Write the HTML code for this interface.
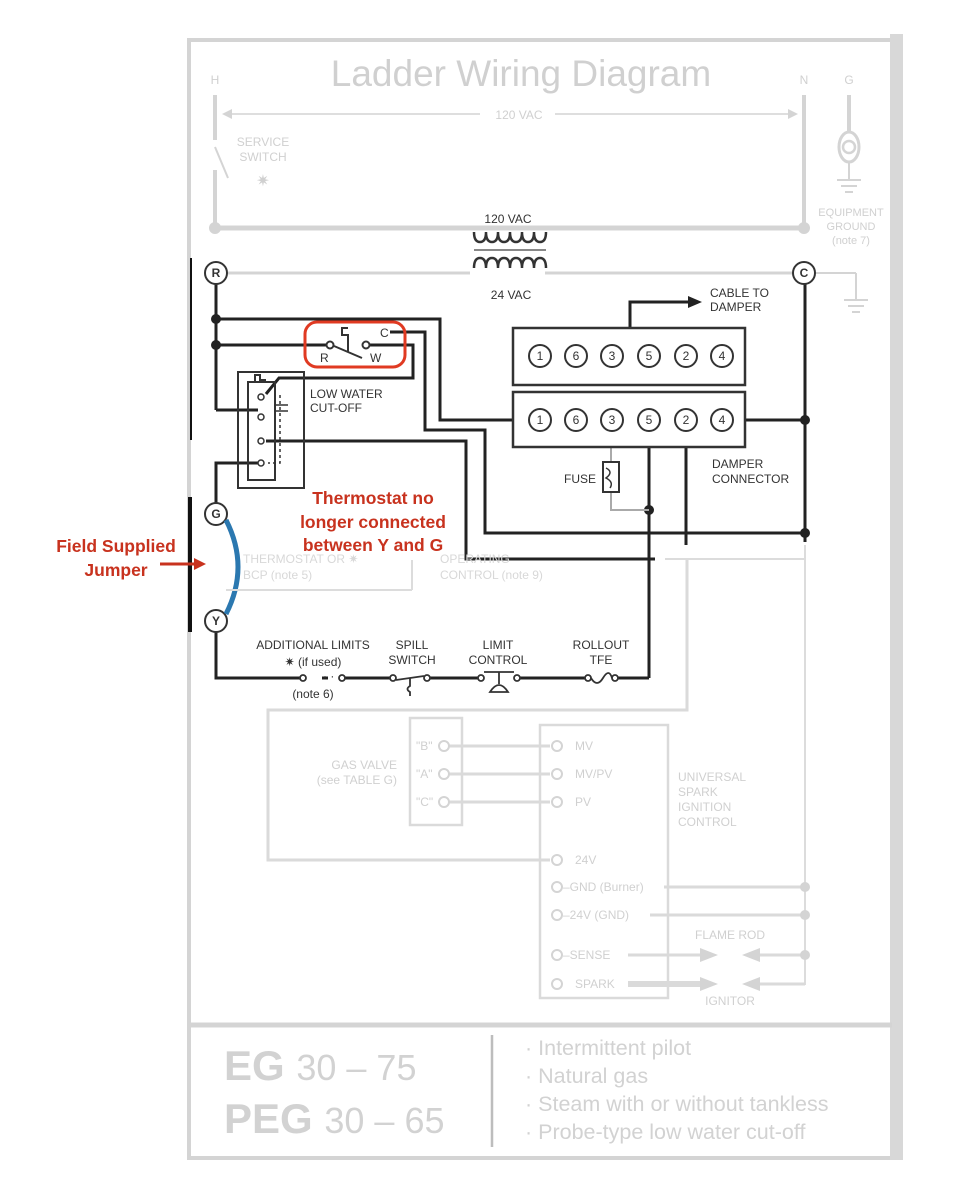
<!DOCTYPE html>
<html><head><meta charset="utf-8"><style>
html,body{margin:0;padding:0;background:#fff;}
svg{display:block;font-family:"Liberation Sans",sans-serif;}
</style></head><body>
<svg width="954" height="1196" viewBox="0 0 954 1196" xmlns="http://www.w3.org/2000/svg">
<rect width="954" height="1196" fill="#fff"/>
<rect x="189" y="40" width="703" height="1118" fill="none" stroke="#d4d4d4" stroke-width="4"/>
<rect x="890" y="34" width="13" height="1126" fill="#d8d8d8"/>
<line x1="189" y1="1025" x2="892" y2="1025" stroke="#d4d4d4" stroke-width="5"/>
<line x1="492" y1="1035" x2="492" y2="1147" stroke="#bdbdbd" stroke-width="2.5"/>
<text x="521" y="86" font-size="37" fill="#d0d0d0" text-anchor="middle">Ladder Wiring Diagram</text>

<g fill="#d0d0d0" font-size="12">
<text x="215" y="84" text-anchor="middle">H</text>
<text x="804" y="84" text-anchor="middle">N</text>
<text x="849" y="84" text-anchor="middle">G</text>
<text x="519" y="119" text-anchor="middle">120 VAC</text>
<text x="263" y="146" text-anchor="middle">SERVICE</text>
<text x="263" y="161" text-anchor="middle">SWITCH</text>
<text x="263" y="186" text-anchor="middle" font-size="16">✷</text>
<text x="851" y="216" text-anchor="middle" font-size="11">EQUIPMENT</text>
<text x="851" y="230" text-anchor="middle" font-size="11">GROUND</text>
<text x="851" y="244" text-anchor="middle" font-size="11">(note 7)</text>
</g>
<g stroke="#d4d4d4" fill="none">
<line x1="215" y1="95" x2="215" y2="140" stroke-width="4"/>
<line x1="215" y1="147" x2="228" y2="178" stroke-width="2"/>
<line x1="215" y1="170" x2="215" y2="228" stroke-width="4"/>
<line x1="804" y1="95" x2="804" y2="228" stroke-width="4"/>
<line x1="215" y1="228" x2="804" y2="228" stroke-width="5"/>
<line x1="230" y1="114" x2="480" y2="114" stroke-width="1.5"/>
<line x1="555" y1="114" x2="790" y2="114" stroke-width="1.5"/>
<line x1="849" y1="95" x2="849" y2="132" stroke-width="4"/>
<ellipse cx="849" cy="147" rx="10" ry="15" stroke-width="3"/>
<circle cx="849" cy="147" r="6" stroke-width="2.5"/>
<line x1="849" y1="162" x2="849" y2="180" stroke-width="2"/>
<line x1="837" y1="180" x2="861" y2="180" stroke-width="2"/>
<line x1="841" y1="186" x2="857" y2="186" stroke-width="2"/>
<line x1="845" y1="192" x2="853" y2="192" stroke-width="2"/>
<line x1="228" y1="273" x2="470" y2="273" stroke-width="3"/>
<line x1="545" y1="273" x2="793" y2="273" stroke-width="3"/>
<line x1="816" y1="273" x2="856" y2="273" stroke-width="2"/>
<line x1="856" y1="273" x2="856" y2="300" stroke-width="2"/>
<line x1="844" y1="300" x2="868" y2="300" stroke-width="2"/>
<line x1="848" y1="306" x2="864" y2="306" stroke-width="2"/>
<line x1="852" y1="312" x2="860" y2="312" stroke-width="2"/>
</g>
<polygon points="222,114 232,109 232,119" fill="#d4d4d4"/>
<polygon points="798,114 788,109 788,119" fill="#d4d4d4"/>
<circle cx="215" cy="228" r="6" fill="#d4d4d4"/>
<circle cx="804" cy="228" r="6" fill="#d4d4d4"/>
<text x="508" y="223" font-size="12" text-anchor="middle" fill="#333">120 VAC</text>
<text x="511" y="299" font-size="12" text-anchor="middle" fill="#333">24 VAC</text>
<g fill="none" stroke="#333" stroke-width="2.5">
<path d="M474,232 q0,10 6,10 q6,0 6,-10 q0,10 6,10 q6,0 6,-10 q0,10 6,10 q6,0 6,-10 q0,10 6,10 q6,0 6,-10 q0,10 6,10 q6,0 6,-10 q0,10 6,10 q6,0 6,-10"/>
<path d="M474,268 q0,-10 6,-10 q6,0 6,10 q0,-10 6,-10 q6,0 6,10 q0,-10 6,-10 q6,0 6,10 q0,-10 6,-10 q6,0 6,10 q0,-10 6,-10 q6,0 6,10 q0,-10 6,-10 q6,0 6,10"/>
<line x1="474" y1="250" x2="546" y2="250" stroke="#888" stroke-width="2"/>
</g>

<line x1="191" y1="258" x2="191" y2="440" stroke="#111" stroke-width="2"/>
<line x1="190" y1="497" x2="190" y2="632" stroke="#111" stroke-width="4"/>

<g fill="none" stroke="#222" stroke-width="3">
<line x1="216" y1="284" x2="216" y2="410"/>
<polyline points="216,410 258,410"/>
<polyline points="216,319 440,319 440,420 529,420"/>
<polyline points="216,345 326,345"/>
<polyline points="370,345 413,345 413,378 279,378 266,394"/>
<polyline points="390,332 425,332 425,430 485,430 485,533 805,533"/>
<polyline points="266,441 466,441 466,559 655,559"/>
<polyline points="258,463 216,463 216,503"/>
<polyline points="733,420 805,420"/>
<line x1="805" y1="284" x2="805" y2="542"/>
<line x1="649" y1="430" x2="649" y2="678"/>
<line x1="686" y1="430" x2="686" y2="545"/>
<polyline points="216,632 216,678 300,678"/>
<line x1="322" y1="678" x2="328" y2="678"/>
<line x1="345" y1="678" x2="390" y2="678"/>
<line x1="430" y1="678" x2="478" y2="678"/>
<line x1="520" y1="678" x2="585" y2="678"/>
<line x1="618" y1="678" x2="649" y2="678"/>
<polyline points="630,328 630,302 690,302"/>
</g>
<polygon points="688,296 702,302 688,308" fill="#222"/>
<g fill="#222">
<circle cx="216" cy="319" r="5"/><circle cx="216" cy="345" r="5"/>
<circle cx="805" cy="420" r="5"/><circle cx="805" cy="533" r="5"/>
<circle cx="649" cy="510" r="5"/>
</g>
<polyline points="611,430 611,462" fill="none" stroke="#aaa" stroke-width="2"/>
<polyline points="611,492 611,510 649,510" fill="none" stroke="#aaa" stroke-width="2"/>
<rect x="603" y="462" width="16" height="30" fill="#fff" stroke="#333" stroke-width="2"/>
<path d="M606,468 q8,4 0,10 q8,4 4,10" fill="none" stroke="#333" stroke-width="1.5"/>
<text x="596" y="483" font-size="12" text-anchor="end" fill="#333">FUSE</text>

<g fill="none" stroke="#333" stroke-width="2">
<circle cx="330" cy="345" r="3.5"/><circle cx="366" cy="345" r="3.5"/>
<line x1="334" y1="346" x2="362" y2="358"/>
<polyline points="348,352 348,335 342,335 342,328 348,328"/>
</g>
<g font-size="12" fill="#333"><text x="320" y="362">R</text><text x="370" y="362">W</text><text x="380" y="337">C</text></g>
<rect x="305" y="322" width="100" height="45" rx="12" fill="none" stroke="#e03a22" stroke-width="3"/>

<rect x="238" y="372" width="66" height="116" fill="none" stroke="#333" stroke-width="2"/>
<rect x="248" y="382" width="27" height="98" fill="none" stroke="#333" stroke-width="2"/>
<polyline points="255,382 255,375 260,375 260,380 265,380 265,382" fill="none" stroke="#333" stroke-width="2"/>
<g fill="#fff" stroke="#333" stroke-width="1.5">
<circle cx="261" cy="397" r="3"/><circle cx="261" cy="417" r="3"/><circle cx="261" cy="441" r="3"/><circle cx="261" cy="463" r="3"/>
</g>
<polyline points="280,395 280,463 268,463" fill="none" stroke="#333" stroke-width="1.5" stroke-dasharray="3,3"/>
<line x1="274" y1="405" x2="288" y2="405" stroke="#333" stroke-width="1.5"/>
<line x1="274" y1="411" x2="288" y2="411" stroke="#333" stroke-width="1.5"/>
<text x="310" y="398" font-size="12" fill="#333">LOW WATER</text>
<text x="310" y="412" font-size="12" fill="#333">CUT-OFF</text>

<rect x="513" y="328" width="232" height="57" fill="#fff" stroke="#333" stroke-width="2.5"/>
<rect x="513" y="392" width="232" height="55" fill="#fff" stroke="#333" stroke-width="2.5"/>
<g font-size="12" fill="#333" text-anchor="middle">
<g fill="#fff" stroke="#333" stroke-width="2">
<circle cx="540" cy="356" r="11"/><circle cx="576" cy="356" r="11"/><circle cx="612" cy="356" r="11"/><circle cx="649" cy="356" r="11"/><circle cx="686" cy="356" r="11"/><circle cx="722" cy="356" r="11"/>
<circle cx="540" cy="420" r="11"/><circle cx="576" cy="420" r="11"/><circle cx="612" cy="420" r="11"/><circle cx="649" cy="420" r="11"/><circle cx="686" cy="420" r="11"/><circle cx="722" cy="420" r="11"/>
</g>
<text x="540" y="360">1</text><text x="576" y="360">6</text><text x="612" y="360">3</text><text x="649" y="360">5</text><text x="686" y="360">2</text><text x="722" y="360">4</text>
<text x="540" y="424">1</text><text x="576" y="424">6</text><text x="612" y="424">3</text><text x="649" y="424">5</text><text x="686" y="424">2</text><text x="722" y="424">4</text>
</g>
<text x="710" y="297" font-size="12" fill="#333">CABLE TO</text>
<text x="710" y="311" font-size="12" fill="#333">DAMPER</text>
<text x="712" y="468" font-size="12" fill="#333">DAMPER</text>
<text x="712" y="483" font-size="12" fill="#333">CONNECTOR</text>

<g fill="#fff" stroke="#333" stroke-width="2">
<circle cx="216" cy="273" r="11"/><circle cx="804" cy="273" r="11"/>
<circle cx="216" cy="514" r="11"/><circle cx="216" cy="621" r="11"/>
</g>
<g font-size="12" fill="#333" text-anchor="middle" font-weight="bold">
<text x="216" y="277">R</text><text x="804" y="277">C</text><text x="216" y="518">G</text><text x="216" y="625">Y</text>
</g>
<path d="M226,520 Q250,567 226,614" fill="none" stroke="#2b78b0" stroke-width="5"/>

<g fill="#d8d8d8" font-size="12">
<text x="243" y="563">THERMOSTAT OR ✷</text>
<text x="243" y="579">BCP (note 5)</text>
<text x="440" y="563">OPERATING</text>
<text x="440" y="579">CONTROL (note 9)</text>
</g>
<g stroke="#dcdcdc" fill="none" stroke-width="2">
<line x1="226" y1="590" x2="412" y2="590"/>
<line x1="412" y1="560" x2="412" y2="590"/>
<line x1="805" y1="545" x2="805" y2="985"/>
<line x1="665" y1="559" x2="805" y2="559"/>
</g>

<g fill="none" stroke="#333" stroke-width="1.8">
<circle cx="303" cy="678" r="3"/><circle cx="342" cy="678" r="3"/>
<circle cx="393" cy="678" r="3"/><circle cx="427" cy="678" r="3"/>
<circle cx="481" cy="678" r="3"/><circle cx="517" cy="678" r="3"/>
<circle cx="588" cy="678" r="3"/><circle cx="615" cy="678" r="3"/>
<line x1="396" y1="680" x2="424" y2="676"/>
<path d="M410,678 v8 q-5,3 0,6 v4"/>
<line x1="484" y1="672" x2="514" y2="672"/>
<line x1="499" y1="672" x2="499" y2="684"/>
<path d="M490,692 q9,-14 18,0 z"/>
<path d="M591,678 q6,10 12,0 q6,-10 9,0"/>
</g>
<text x="323" y="680" font-size="12" fill="#333">· ·</text>
<g font-size="12" fill="#333" text-anchor="middle">
<text x="313" y="649">ADDITIONAL LIMITS</text>
<text x="313" y="666">✷ (if used)</text>
<text x="313" y="698">(note 6)</text>
<text x="412" y="649">SPILL</text><text x="412" y="664">SWITCH</text>
<text x="498" y="649">LIMIT</text><text x="498" y="664">CONTROL</text>
<text x="601" y="649">ROLLOUT</text><text x="601" y="664">TFE</text>
</g>

<g stroke="#dadada" fill="none" stroke-width="3">
<polyline points="687,560 687,710 268,710 268,860 550,860"/>
<rect x="410" y="718" width="52" height="107" stroke-width="2.5"/>
<rect x="540" y="725" width="128" height="273" stroke-width="2.5"/>
<line x1="447" y1="746" x2="550" y2="746"/>
<line x1="447" y1="774" x2="550" y2="774"/>
<line x1="447" y1="802" x2="550" y2="802"/>
<line x1="664" y1="887" x2="805" y2="887"/>
<line x1="650" y1="915" x2="805" y2="915"/>
<line x1="628" y1="955" x2="700" y2="955"/>
<line x1="760" y1="955" x2="805" y2="955"/>
<polyline points="760,984 805,984"/>
<line x1="628" y1="984" x2="700" y2="984" stroke-width="6"/>
</g>
<g fill="#fff" stroke="#d4d4d4" stroke-width="2">
<circle cx="444" cy="746" r="5"/><circle cx="444" cy="774" r="5"/><circle cx="444" cy="802" r="5"/>
<circle cx="557" cy="746" r="5"/><circle cx="557" cy="774" r="5"/><circle cx="557" cy="802" r="5"/>
<circle cx="557" cy="860" r="5"/><circle cx="557" cy="887" r="5"/><circle cx="557" cy="915" r="5"/>
<circle cx="557" cy="955" r="5"/><circle cx="557" cy="984" r="5"/>
</g>
<g fill="#d4d4d4">
<circle cx="805" cy="887" r="5"/><circle cx="805" cy="915" r="5"/><circle cx="805" cy="955" r="5"/>
<polygon points="700,948 718,955 700,962"/><polygon points="700,977 718,984 700,991"/>
<polygon points="760,948 742,955 760,962"/><polygon points="760,977 742,984 760,991"/>
</g>
<g fill="#d0d0d0" font-size="12">
<text x="397" y="769" text-anchor="end">GAS VALVE</text>
<text x="397" y="784" text-anchor="end">(see TABLE G)</text>
<text x="416" y="750">"B"</text><text x="416" y="778">"A"</text><text x="416" y="806">"C"</text>
<text x="575" y="750">MV</text><text x="575" y="778">MV/PV</text><text x="575" y="806">PV</text>
<text x="575" y="864">24V</text>
<text x="563" y="891">–GND (Burner)</text>
<text x="563" y="919">–24V (GND)</text>
<text x="563" y="959">–SENSE</text>
<text x="575" y="988">SPARK</text>
<text x="678" y="781">UNIVERSAL</text><text x="678" y="796">SPARK</text><text x="678" y="811">IGNITION</text><text x="678" y="826">CONTROL</text>
<text x="730" y="939" text-anchor="middle">FLAME ROD</text>
<text x="730" y="1005" text-anchor="middle">IGNITOR</text>
</g>

<g fill="#d2d2d2">
<text x="224" y="1080" font-size="42" font-weight="bold">EG <tspan font-weight="normal" font-size="36">30 – 75</tspan></text>
<text x="224" y="1133" font-size="42" font-weight="bold">PEG <tspan font-weight="normal" font-size="36">30 – 65</tspan></text>
<g font-size="21.5">
<text x="525" y="1055">· Intermittent pilot</text>
<text x="525" y="1083">· Natural gas</text>
<text x="525" y="1111">· Steam with or without tankless</text>
<text x="525" y="1139">· Probe-type low water cut-off</text>
</g>
</g>

<g fill="#c8321e" font-weight="bold" font-size="17.5" text-anchor="middle">
<text x="116" y="552">Field Supplied</text>
<text x="116" y="576">Jumper</text>
<text x="373" y="504">Thermostat no</text>
<text x="373" y="528">longer connected</text>
<text x="373" y="551">between Y and G</text>
</g>
<line x1="160" y1="564" x2="196" y2="564" stroke="#c8321e" stroke-width="3"/>
<polygon points="194,558 206,564 194,570" fill="#c8321e"/>
</svg>
</body></html>
